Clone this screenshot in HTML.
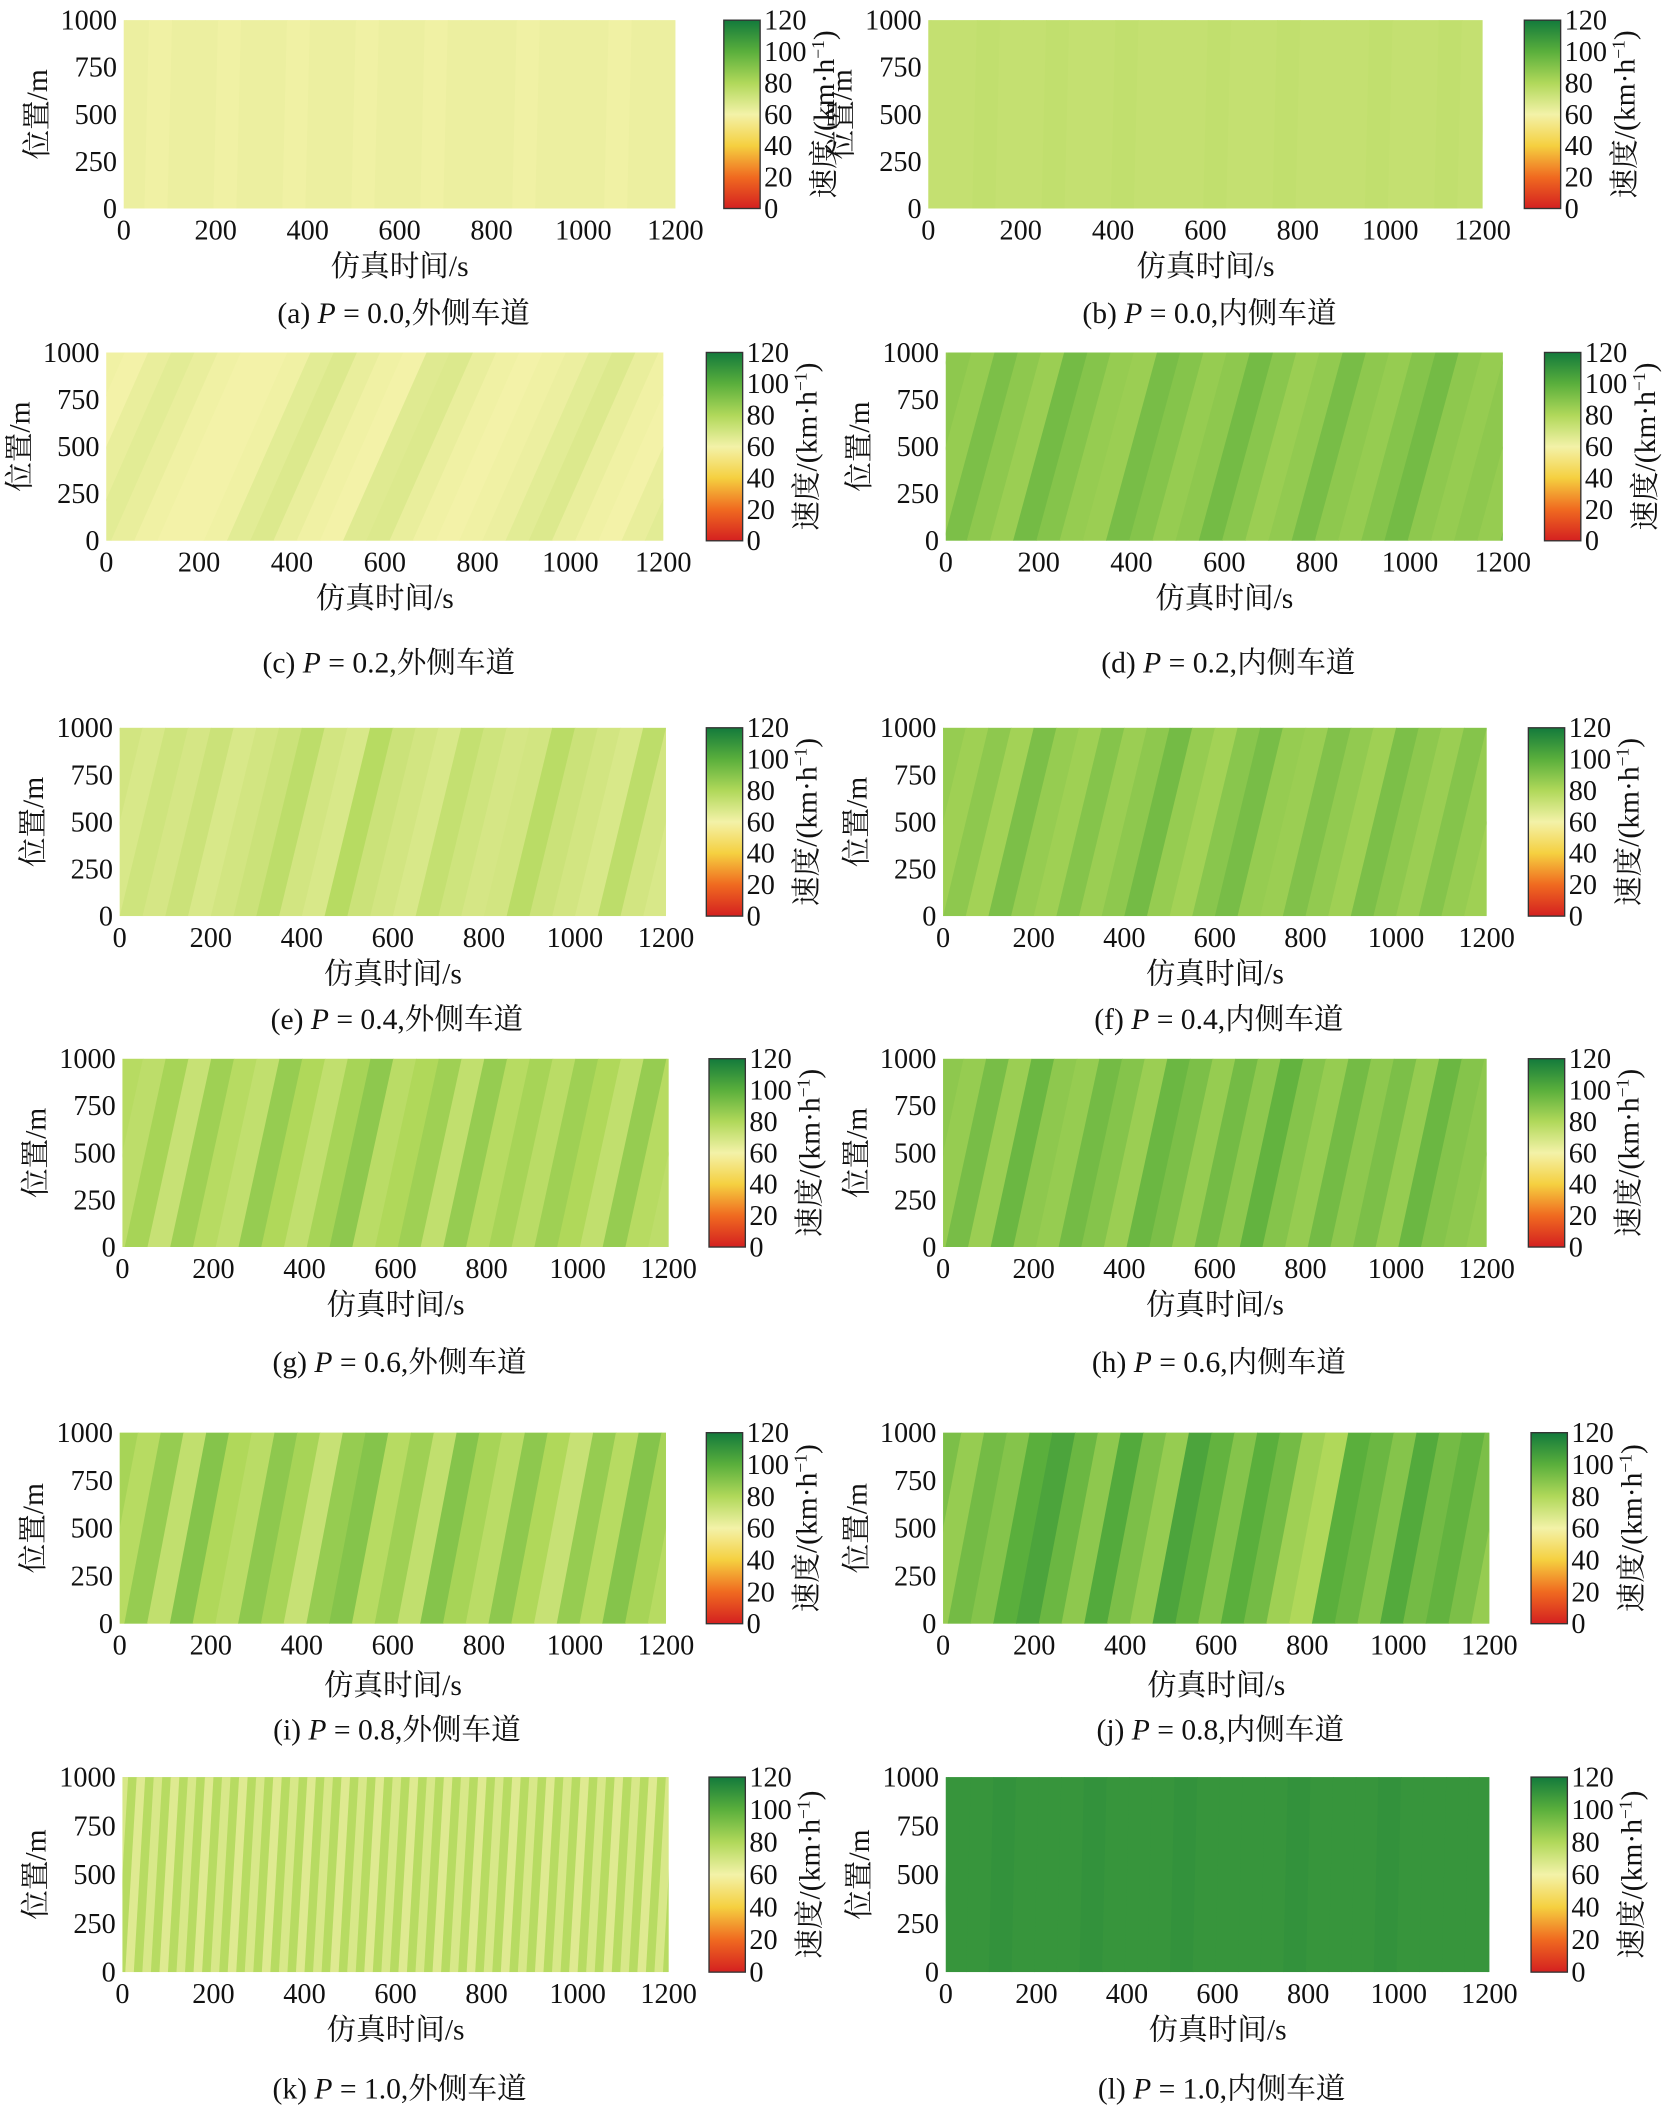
<!DOCTYPE html>
<html><head><meta charset="utf-8">
<style>
html,body{margin:0;padding:0;background:#fff;}
svg{display:block;}
text{font-family:"Liberation Serif","Noto Serif CJK SC","Noto Sans CJK SC",serif;fill:#111;}
</style></head>
<body>
<svg id="fig" width="1675" height="2108" viewBox="0 0 1245 1567" preserveAspectRatio="none" xmlns="http://www.w3.org/2000/svg">
<defs>
<linearGradient id="cmap" x1="0" y1="1" x2="0" y2="0">
<stop offset="0" stop-color="#d42020"/><stop offset="0.1667" stop-color="#f06a20"/>
<stop offset="0.3333" stop-color="#f5d040"/><stop offset="0.5" stop-color="#f3f2a8"/>
<stop offset="0.6667" stop-color="#b0d85a"/><stop offset="0.8333" stop-color="#5aaf3c"/>
<stop offset="1" stop-color="#137a3c"/>
</linearGradient>
</defs>
</svg>
<script>
// stripe speeds (km/h) per panel, equal time slots over 0..1200 s
const speedsA=[62,61,62,62,61,62,62,61,62,62,61,62,62,61,62,62,62,61,62,62,62,61,62,62];
const speedsB=[74,74,75,74,74,75,74,74,75,74,74,74,75,74,74,75,74,74,74,75,74,74,75,74];
const speedsC=[63,65,63,61,60,60,61,65,67,63,61,60,66,67,63,61,60,61,62,65,67,63,61,60];
const speedsD=[86,92,88,85,94,90,86,85,93,90,86,88,94,89,85,87,93,88,86,90,94,88,86,88];
const speedsE=[68,71,69,72,68,70,72,76,70,68,78,72,70,68,74,71,69,70,77,72,70,68,76,70];
const speedsF=[84,88,83,92,86,84,90,85,88,94,86,83,89,93,86,85,91,87,84,92,88,85,90,86];
const speedsG=[76,82,73,84,78,75,86,80,75,82,88,77,80,84,75,86,78,82,77,84,80,75,86,78];
const speedsH=[86,93,85,96,88,86,94,90,85,96,92,86,94,88,98,90,86,94,88,92,86,96,90,88];
const speedsI=[78,86,75,90,80,77,88,82,73,86,90,78,84,75,90,82,77,88,80,73,86,78,90,82];
const speedsJ=[86,94,90,100,104,96,88,102,92,86,104,98,90,100,94,84,80,100,96,90,102,94,98,92];
const speedsK=[78,66,78,68,78,66,78,68,78,66,78,68,78,66,78,68,78,66,78,68,78,66,78,68,78,66,78,68,78,66,78,68,78,66,78,68,78,66,78,68,78,66,78,68,78,66,78,68,78,66,78,68,78,66,78,68,78,66,78,68,78,66,78,68];
const speedsL=[110,110,111,110,110,110,111,110,110,110,111,110,110,110,110,111,110,110,110,111,110,110,110,110];
const captions=["(a) ","(b) ","(c) ","(d) ","(e) ","(f) ","(g) ","(h) ","(i) ","(j) ","(k) ","(l) "];
const pValues=["0.0","0.0","0.2","0.2","0.4","0.4","0.6","0.6","0.8","0.8","1.0","1.0"];
const lanes=["外侧车道","内侧车道"];
const xTicks=[0,200,400,600,800,1000,1200];
const yTicks=[0,250,500,750,1000];
const cTicks=[0,20,40,60,80,100,120];
const allSpeeds=[speedsA,speedsB,speedsC,speedsD,speedsE,speedsF,speedsG,speedsH,speedsI,speedsJ,speedsK,speedsL];
const slant=[10,10,180,110,100,100,90,90,80,80,25,10];

// layout (display units)
const L=[
 {x0:92,x1:502,y0:15,y1:155,cb:538,xl:197,cap:232},
 {x0:690,x1:1102,y0:15,y1:155,cb:1133,xl:197,cap:232},
 {x0:79,x1:493,y0:262,y1:402,cb:525,xl:444,cap:492},
 {x0:703,x1:1117,y0:262,y1:402,cb:1148,xl:444,cap:492},
 {x0:89,x1:495,y0:541,y1:681,cb:525,xl:723,cap:757},
 {x0:701,x1:1105,y0:541,y1:681,cb:1136,xl:723,cap:757},
 {x0:91,x1:497,y0:787,y1:927,cb:527,xl:969,cap:1012},
 {x0:701,x1:1105,y0:787,y1:927,cb:1136,xl:969,cap:1012},
 {x0:89,x1:495,y0:1065,y1:1207,cb:525,xl:1252,cap:1285},
 {x0:701,x1:1107,y0:1065,y1:1207,cb:1138,xl:1252,cap:1285},
 {x0:91,x1:497,y0:1321,y1:1466,cb:527,xl:1508,cap:1552},
 {x0:703,x1:1107,y0:1321,y1:1466,cb:1138,xl:1508,cap:1552}
];
const stops=[[0,[212,32,32]],[20,[240,106,32]],[40,[245,208,64]],[60,[243,242,168]],[80,[176,216,90]],[100,[90,175,60]],[120,[19,122,60]]];
function cmap(v){
  v=Math.max(0,Math.min(120,v));
  for(let i=0;i<stops.length-1;i++){
    const a=stops[i],b=stops[i+1];
    if(v<=b[0]){const t=(v-a[0])/(b[0]-a[0]);
      return 'rgb('+a[1].map((c,k)=>Math.round(c+(b[1][k]-c)*t)).join(',')+')';}
  }
  return 'rgb(19,122,60)';
}
const NS='http://www.w3.org/2000/svg';
const svg=document.getElementById('fig');
function mk(tag,attrs,parent){const e=document.createElementNS(NS,tag);for(const k in attrs)e.setAttribute(k,attrs[k]);(parent||svg).appendChild(e);return e;}
function txt(s,x,y,size,anchor,parent){const t=mk('text',{x:x,y:y,'font-size':size,'text-anchor':anchor||'middle'},parent);t.textContent=s;return t;}

L.forEach((g,i)=>{
  const grp=mk('g',{});
  
  
  const xs=t=>g.x0+(t/1200)*(g.x1-g.x0);
  const ys=p=>g.y1-(p/1000)*(g.y1-g.y0);
  const cid='clip'+i;
  const cp=mk('clipPath',{id:cid},grp);mk('rect',{x:g.x0,y:g.y0,width:g.x1-g.x0,height:g.y1-g.y0},cp);
  const hm=mk('g',{'clip-path':'url(#'+cid+')'},grp);
  
  
  const d=allSpeeds[i];const n=d.length;const dt=1200/n;const sh=slant[i];
  mk('rect',{x:g.x0,y:g.y0,width:g.x1-g.x0,height:g.y1-g.y0,fill:cmap(d[0])},hm);
  for(let k=-4;k<n+4;k++){
    const v=d[((k%n)+n)%n];
    const ta=k*dt-sh/2,tb=(k+1)*dt-sh/2;
    const pts=[[xs(ta),ys(0)],[xs(tb)+0.6,ys(0)],[xs(tb+sh)+0.6,ys(1000)],[xs(ta+sh),ys(1000)]].map(q=>q.join(',')).join(' ');
    const p=mk('polygon',{points:pts,fill:cmap(v)},hm);
    
    
  }
  yTicks.forEach(v=>{const t=txt(String(v),g.x0-5,ys(v)+7,21,'end',grp);});
  xTicks.forEach(v=>{const t=txt(String(v),xs(v),g.y1+23,21,'middle',grp);});
  const yl=txt('位置/m',0,0,22,'middle',grp);yl.setAttribute('transform','translate('+(g.x0-57)+','+((g.y0+g.y1)/2)+') rotate(-90)');
  
  const xl=txt('仿真时间/s',(g.x0+g.x1)/2,g.xl+8,22,'middle',grp);
  
  const cbr=mk('rect',{x:g.cb,y:g.y0,width:27,height:g.y1-g.y0,fill:'url(#cmap)',stroke:'#333','stroke-width':1},grp);
  
  cTicks.forEach(v=>{const yy=g.y1-(v/120)*(g.y1-g.y0);const t=txt(String(v),g.cb+30,yy+7,21,'start',grp);});
  const cl=mk('text',{'font-size':22,'text-anchor':'middle',transform:'translate('+(g.cb+82)+','+((g.y0+g.y1)/2)+') rotate(-90)'},grp);
  cl.innerHTML='速度/(km·h<tspan baseline-shift="super" font-size="13">−1</tspan>)';
  
  const cap=mk('text',{x:(g.x0+g.x1)/2+3,y:g.cap+8,'font-size':22,'text-anchor':'middle'},grp);
  cap.innerHTML=captions[i]+'<tspan font-style="italic">P</tspan> = '+pValues[i]+','+lanes[i%2];
  
});
</script>
</body></html>
